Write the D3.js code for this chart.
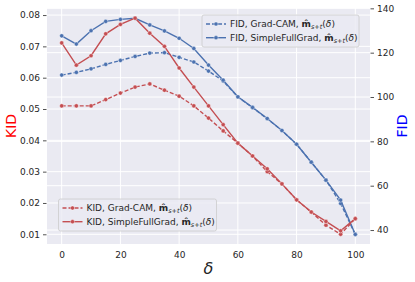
<!DOCTYPE html>
<html>
<head>
<meta charset="utf-8">
<script src="https://cdn.jsdelivr.net/npm/d3@7"></script>
<style>
  html, body { margin: 0; padding: 0; background: #fff; }
  svg { display: block; font-family: 'DejaVu Sans', sans-serif; }
</style>
</head>
<body>
<div id="chartContainer"></div>
<script>
// delta values on the x axis
const deltas = [0, 5, 10, 15, 20, 25, 30, 35, 40, 45, 50, 55, 60, 65, 70, 75, 80, 85, 90, 95, 100]

// KID (left axis)
const kidGradCam = [0.0510, 0.0510, 0.0510, 0.0530, 0.0551, 0.0570, 0.0580, 0.0560, 0.0541, 0.0510, 0.0471,
  0.0430, 0.0391, 0.0350, 0.0300, 0.0261, 0.0210, 0.0171, 0.0129, 0.0100, 0.0150]
const kidSimpleFullGrad = [0.0711, 0.0640, 0.0670, 0.0740, 0.0770, 0.0790, 0.0742, 0.0700, 0.0631, 0.0570, 0.0510,
  0.0450, 0.0391, 0.0350, 0.0309, 0.0261, 0.0210, 0.0171, 0.0141, 0.0111, 0.0150]

// FID (right axis)
const fidGradCam = [109.9, 111.1, 112.7, 114.7, 116.5, 118.3, 119.8, 120.0, 117.9, 115.8, 111.7,
  107.2, 100.0, 95.2, 90.2, 84.9, 78.7, 70.6, 62.5, 52.0, 38.0]
const fidSimpleFullGrad = [127.6, 123.9, 129.9, 134.1, 135.0, 135.5, 132.5, 129.8, 126.5, 121.9, 114.4,
  107.6, 100.1, 95.3, 90.3, 84.9, 78.7, 70.6, 62.5, 53.5, 38.0]

const xTicks = [0, 20, 40, 60, 80, 100]
const kidTicks = [0.01, 0.02, 0.03, 0.04, 0.05, 0.06, 0.07, 0.08]
const fidTicks = [40, 60, 80, 100, 120, 140]

const blue = '#4C72B0'
const red = '#C44E52'

const width = 415, height = 282
const margin = { top: 8, right: 45, bottom: 38, left: 47 }
const plotW = width - margin.left - margin.right
const plotH = height - margin.top - margin.bottom

const svg = d3.select('#chartContainer').append('svg')
  .attr('width', width)
  .attr('height', height)

const x = d3.scaleLinear().domain([-5, 105]).range([0, plotW])
const yKid = d3.scaleLinear().domain([0.00690, 0.08225]).range([plotH, 0])
const yFid = d3.scaleLinear().domain([33.7, 140.15]).range([plotH, 0])

const g = svg.append('g').attr('transform', `translate(${margin.left},${margin.top})`)

g.append('rect')
  .attr('width', plotW)
  .attr('height', plotH)
  .attr('fill', '#EAEAF2')

// grid: vertical for x, horizontal for both y axes
g.append('g').selectAll('line').data(xTicks).enter().append('line')
  .attr('x1', d => x(d)).attr('x2', d => x(d))
  .attr('y1', 0).attr('y2', plotH)
  .attr('stroke', '#fff').attr('stroke-width', 1)
g.append('g').selectAll('line').data(kidTicks).enter().append('line')
  .attr('x1', 0).attr('x2', plotW)
  .attr('y1', d => yKid(d)).attr('y2', d => yKid(d))
  .attr('stroke', '#fff').attr('stroke-width', 1)
g.append('g').selectAll('line').data(fidTicks).enter().append('line')
  .attr('x1', 0).attr('x2', plotW)
  .attr('y1', d => yFid(d)).attr('y2', d => yFid(d))
  .attr('stroke', '#fff').attr('stroke-width', 1)

// axes
function styleAxis(sel) {
  sel.select('.domain').remove()
  sel.selectAll('.tick line').attr('stroke', '#262626').attr('stroke-width', 0.8)
  sel.selectAll('.tick text').attr('fill', '#262626').attr('font-size', '9px')
    .attr('font-family', 'DejaVu Sans, sans-serif')
}

g.append('g')
  .attr('transform', `translate(0,${plotH})`)
  .call(d3.axisBottom(x).tickValues(xTicks).tickSize(0).tickPadding(8))
  .call(styleAxis)

g.append('g')
  .call(d3.axisLeft(yKid).tickValues(kidTicks).tickFormat(d3.format('.2f')).tickSize(3.5).tickPadding(3))
  .call(styleAxis)
  .attr('transform', 'translate(-0.5,0)')

g.append('g')
  .attr('transform', `translate(${plotW + 0.5},0)`)
  .call(d3.axisRight(yFid).tickValues(fidTicks).tickSize(3.5).tickPadding(3))
  .call(styleAxis)

// series
const series = [
  { values: fidGradCam, y: yFid, color: blue, dash: '4,2' },
  { values: fidSimpleFullGrad, y: yFid, color: blue, dash: null },
  { values: kidGradCam, y: yKid, color: red, dash: '4,2' },
  { values: kidSimpleFullGrad, y: yKid, color: red, dash: null }
]

series.forEach(s => {
  const line = d3.line()
    .x((d, i) => x(deltas[i]))
    .y(d => s.y(d))
  g.append('path')
    .datum(s.values)
    .attr('d', line)
    .attr('fill', 'none')
    .attr('stroke', s.color)
    .attr('stroke-width', 1.4)
    .attr('stroke-dasharray', s.dash)
  g.append('g').selectAll('circle')
    .data(s.values)
    .enter().append('circle')
    .attr('cx', (d, i) => x(deltas[i]))
    .attr('cy', d => s.y(d))
    .attr('r', 2.1)
    .attr('fill', s.color)
    .attr('stroke', '#fff')
    .attr('stroke-width', 0.4)
})

// axis labels
svg.append('text')
  .attr('transform', `translate(15.5,${margin.top + plotH / 2}) rotate(-90)`)
  .attr('text-anchor', 'middle')
  .attr('font-size', '14px')
  .attr('fill', '#ff0000')
  .text('KID')

svg.append('text')
  .attr('transform', `translate(397,${margin.top + plotH / 2}) rotate(-90)`)
  .attr('text-anchor', 'middle')
  .attr('dominant-baseline', 'hanging')
  .attr('font-size', '14px')
  .attr('fill', '#0000ff')
  .text('FID')

svg.append('text')
  .attr('x', margin.left + x(50))
  .attr('y', 274)
  .attr('text-anchor', 'middle')
  .attr('font-size', '16px')
  .attr('font-style', 'italic')
  .attr('fill', '#262626')
  .text('δ')

// legends
function legend(lx, ly, w, entries) {
  const lg = svg.append('g').attr('transform', `translate(${lx},${ly})`)
  lg.append('rect')
    .attr('width', w).attr('height', 32)
    .attr('rx', 2)
    .attr('fill', '#EAEAF2').attr('fill-opacity', 0.8)
    .attr('stroke', '#cccccc').attr('stroke-width', 0.8)
  entries.forEach((e, i) => {
    const yy = 9 + i * 13.7
    lg.append('line')
      .attr('x1', 4).attr('x2', 24)
      .attr('y1', yy).attr('y2', yy)
      .attr('stroke', e.color).attr('stroke-width', 1.4)
      .attr('stroke-dasharray', e.dash)
    lg.append('circle')
      .attr('cx', 14).attr('cy', yy).attr('r', 2.1)
      .attr('fill', e.color).attr('stroke', '#fff').attr('stroke-width', 0.4)
    const t = lg.append('text')
      .attr('x', 28).attr('y', yy + 3.2)
      .attr('font-size', '9px')
      .attr('fill', '#262626')
    t.append('tspan').text(e.label + ', ')
    t.append('tspan').attr('font-weight', 'bold').text('m\u0302')
    t.append('tspan').attr('font-size', '6.5px').attr('font-style', 'italic').attr('dy', 2).text('s+t')
    t.append('tspan').attr('dy', -2).text('(')
    t.append('tspan').attr('font-style', 'italic').text('δ')
    t.append('tspan').text(')')
  })
}

legend(202, 15, 157, [
  { label: 'FID, Grad-CAM', color: blue, dash: '4,2' },
  { label: 'FID, SimpleFullGrad', color: blue, dash: null }
])

legend(58.5, 199, 158, [
  { label: 'KID, Grad-CAM', color: red, dash: '4,2' },
  { label: 'KID, SimpleFullGrad', color: red, dash: null }
])
</script>
</body>
</html>
